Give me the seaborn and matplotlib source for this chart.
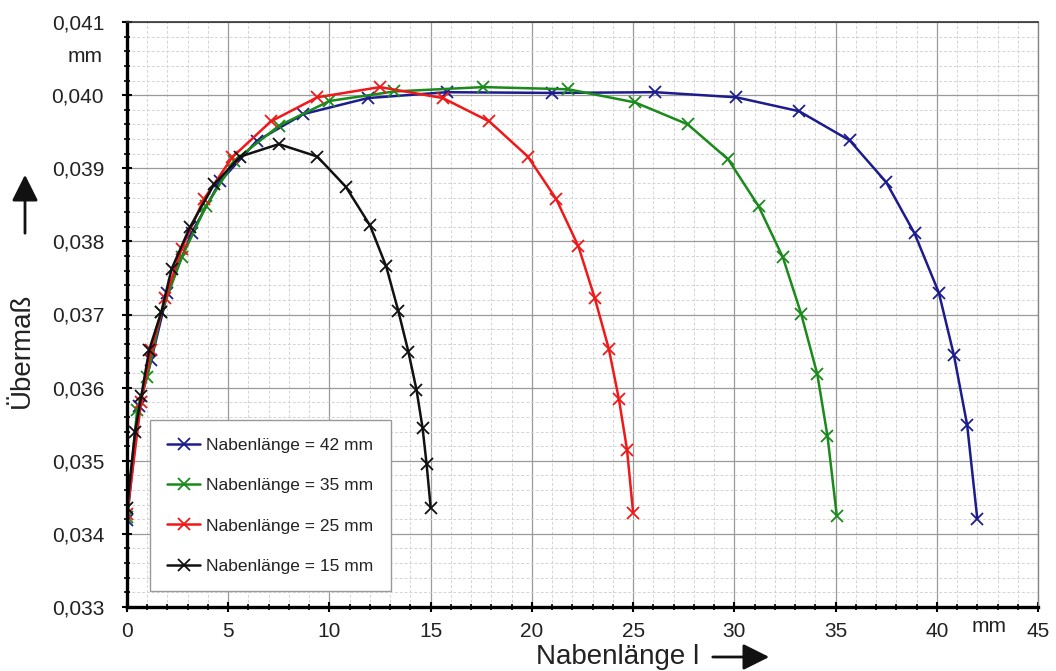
import matplotlib
matplotlib.use("Agg")
import matplotlib.pyplot as plt
import seaborn as sns
import pandas as pd
from matplotlib.ticker import MultipleLocator, FuncFormatter

# ---- data ----
x42 = [0, 0.6, 1.2, 2.0, 3.2, 4.6, 6.4, 8.7, 11.9, 15.8, 21.0, 26.1, 30.1, 33.2, 35.7, 37.5, 38.9, 40.1, 40.85, 41.5, 42.0]
y42 = [0.03419, 0.03575, 0.03638, 0.03730, 0.03812, 0.03882, 0.03937, 0.03974, 0.03996, 0.04004, 0.04003,
       0.04004, 0.03997, 0.03978, 0.03938, 0.03881, 0.03811, 0.03730, 0.03644, 0.03549, 0.03421]
x35 = [0, 0.5, 1.0, 1.7, 2.7, 3.9, 5.3, 7.5, 10.0, 13.2, 17.6, 21.8, 25.1, 27.7, 29.7, 31.2, 32.4, 33.3, 34.1, 34.6, 35.06]
y35 = [0.03423, 0.03570, 0.03615, 0.03703, 0.03778, 0.03848, 0.03910, 0.03958, 0.03992, 0.04005, 0.04011,
       0.04008, 0.03990, 0.03960, 0.03912, 0.03848, 0.03778, 0.03701, 0.03618, 0.03534, 0.03425]
x25 = [0, 0.7, 1.2, 1.9, 2.7, 3.8, 5.2, 7.1, 9.4, 12.5, 15.6, 17.9, 19.8, 21.2, 22.3, 23.1, 23.8, 24.3, 24.7, 25.0]
y25 = [0.03427, 0.03581, 0.03652, 0.03723, 0.03790, 0.03858, 0.03915, 0.03964, 0.03997, 0.04011, 0.03996,
       0.03964, 0.03916, 0.03858, 0.03793, 0.03723, 0.03653, 0.03584, 0.03515, 0.03429]
x15 = [0, 0.4, 0.7, 1.1, 1.7, 2.2, 3.1, 4.3, 5.6, 7.5, 9.4, 10.8, 12.0, 12.8, 13.4, 13.9, 14.3, 14.6, 14.8, 15.0]
y15 = [0.03436, 0.03540, 0.03588, 0.03652, 0.03704, 0.03762, 0.03819, 0.03878, 0.03916, 0.03933, 0.03916,
       0.03875, 0.03822, 0.03766, 0.03705, 0.03649, 0.03597, 0.03545, 0.03495, 0.03436]

labels = ["Nabenlänge = 42 mm", "Nabenlänge = 35 mm", "Nabenlänge = 25 mm", "Nabenlänge = 15 mm"]
series = [(x42, y42), (x35, y35), (x25, y25), (x15, y15)]
colors = ["#1c1c8e", "#1a8a1a", "#f01818", "#111111"]

xticks = [0, 5, 10, 15, 20, 25, 30, 35, 40, 45]
yticks = [0.033, 0.034, 0.035, 0.036, 0.037, 0.038, 0.039, 0.040, 0.041]

sns.set_style("white")
plt.rcParams['font.family'] = ['Liberation Sans', 'DejaVu Sans']

fig = plt.figure(figsize=(10.56, 6.71), dpi=100)
ax = fig.add_axes([127/1056, 64/671, 911/1056, 585/671])

for (xs, ys), lab, c in zip(series, labels, colors):
    df = pd.DataFrame({"x": xs, "y": ys})
    sns.lineplot(data=df, x="x", y="y", ax=ax, color=c, lw=1.8, marker="x",
                 markersize=9, markeredgewidth=1.3, markeredgecolor=c, sort=False, label=lab)

ax.set_xlim(0, 45)
ax.set_ylim(0.033, 0.041)
ax.set_xticks(xticks)
ax.set_yticks(yticks)
ax.xaxis.set_minor_locator(MultipleLocator(1))
ax.yaxis.set_minor_locator(MultipleLocator(0.0002))
ax.yaxis.set_major_formatter(FuncFormatter(lambda v, p: f"{v:.3f}".replace(".", ",")))
ax.xaxis.set_major_formatter(FuncFormatter(lambda v, p: f"{int(round(v))}"))

ax.grid(which="major", color="#9a9a9a", lw=0.9, ls="-")
ax.grid(which="minor", color="#d4d4d4", lw=0.7, ls=(0, (3, 2)))
ax.set_axisbelow(True)

for s in ["left", "bottom"]:
    ax.spines[s].set_color("black")
    ax.spines[s].set_linewidth(2.4)
ax.spines["top"].set_color("#333333")
ax.spines["top"].set_linewidth(1.2)
ax.spines["right"].set_color("#888888")
ax.spines["right"].set_linewidth(1.0)

ax.tick_params(which="both", direction="inout", color="black", left=True, bottom=True)
ax.tick_params(which="major", length=7, width=1.5, labelsize=15, labelcolor="#222222")
ax.tick_params(axis="y", which="major", pad=13)
ax.tick_params(axis="x", which="major", pad=7)
ax.tick_params(which="minor", length=5, width=1.2)

ax.set_xlabel("")
ax.set_ylabel("")

# unit texts
ax.text(42.6, -0.017, "mm", transform=ax.get_xaxis_transform(), ha="center", va="top", fontsize=15, color="#222222")
ax.text(-0.027, 0.04053, "mm", transform=ax.get_yaxis_transform(), ha="right", va="center", fontsize=15, color="#222222")

# axis labels with arrows
fig.text(22/1056, 1 - 350/671, "Übermaß", rotation=90, ha="center", va="center", fontsize=20, color="#222222")
fig.text(618/1056, 1 - 657/671, "Nabenlänge l", ha="center", va="center", fontsize=20, color="#222222")
fig.patches.append(matplotlib.patches.FancyArrowPatch(
    (25/1056, 1 - 236/671), (25/1056, 1 - 172/671), transform=fig.transFigure,
    arrowstyle="-|>,head_length=10,head_width=5", lw=2, color="#111111", mutation_scale=1.6))
fig.patches.append(matplotlib.patches.FancyArrowPatch(
    (710/1056, 1 - 657/671), (772/1056, 1 - 657/671), transform=fig.transFigure,
    arrowstyle="-|>,head_length=10,head_width=5", lw=2, color="#111111", mutation_scale=1.6))

leg = ax.legend(loc="lower left", bbox_to_anchor=(0.025, 0.027), fontsize=12.5, frameon=True,
                fancybox=False, edgecolor="#999999", framealpha=1, labelspacing=1.45,
                borderpad=1.0, handlelength=1.9, handletextpad=0.35, borderaxespad=0)
leg.get_frame().set_linewidth(1.0)
for t in leg.get_texts():
    t.set_color("#222222")

fig.savefig("out.png", dpi=100)
